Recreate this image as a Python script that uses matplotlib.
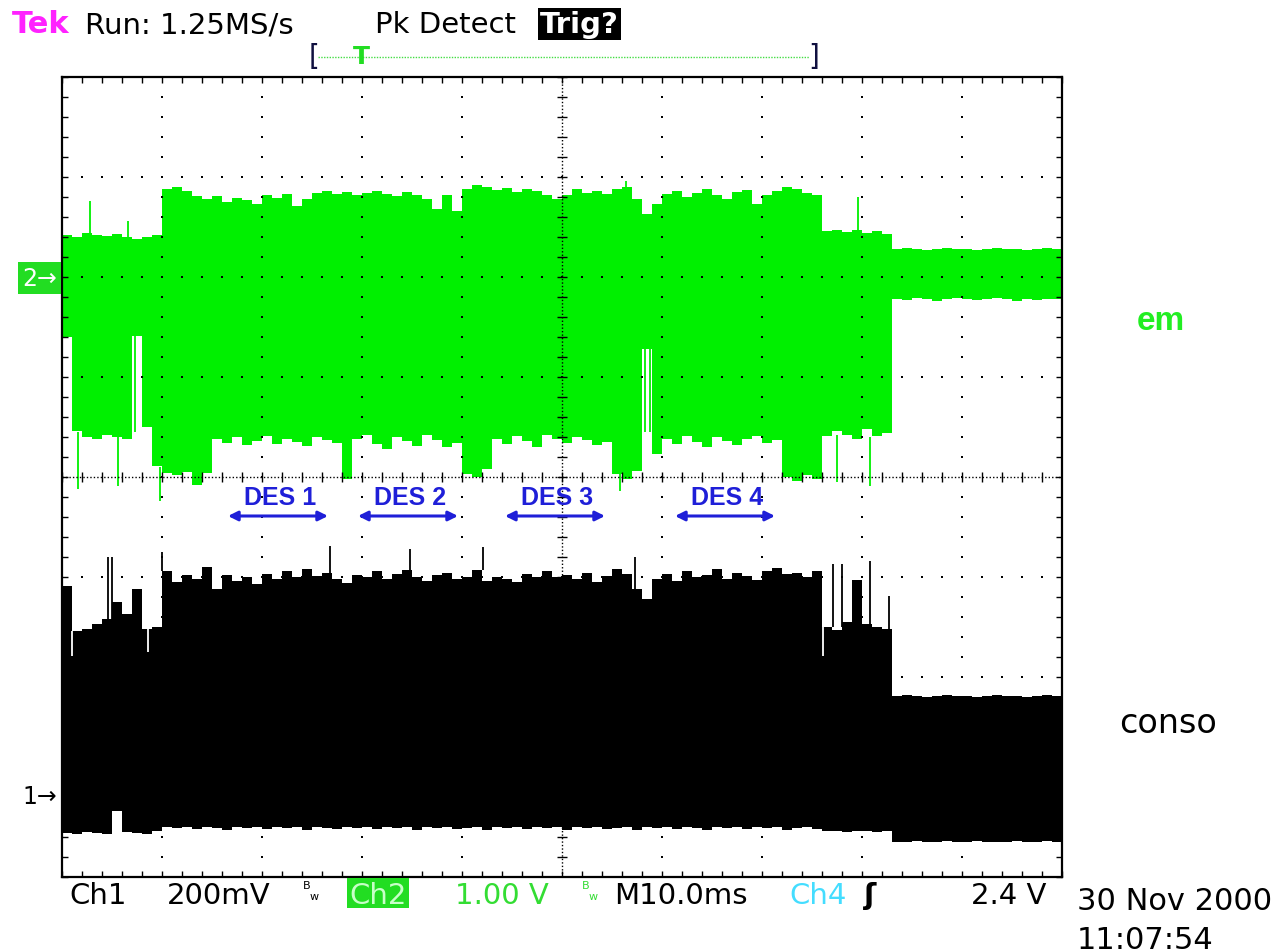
import matplotlib
matplotlib.use("Agg")
import matplotlib.pyplot as plt
from matplotlib.lines import Line2D
from matplotlib.patches import Rectangle
import numpy as np

# screen: 10 div x 8 div, M 10.0 ms/div -> time in ms, vertical in divisions
T_EDGES_MS = np.arange(0, 101, 1)  # 1 ms acquisition bins

# ch2 "em" envelope (divisions, screen units)
GREEN_TOP = [
    2.42, 2.40, 2.44, 2.42, 2.41, 2.43, 2.40, 2.38, 2.40, 2.42,
    2.88, 2.90, 2.86, 2.81, 2.78, 2.81, 2.75, 2.79, 2.77, 2.73,
    2.82, 2.79, 2.83, 2.71, 2.78, 2.84, 2.86, 2.83, 2.85, 2.82,
    2.84, 2.86, 2.83, 2.81, 2.85, 2.82, 2.78, 2.68, 2.82, 2.66,
    2.88, 2.92, 2.90, 2.87, 2.89, 2.85, 2.88, 2.86, 2.82, 2.78,
    2.82, 2.88, 2.84, 2.86, 2.83, 2.88, 2.90, 2.78, 2.63, 2.73,
    2.83, 2.86, 2.80, 2.84, 2.88, 2.82, 2.78, 2.85, 2.87, 2.73,
    2.82, 2.86, 2.90, 2.88, 2.84, 2.82, 2.46, 2.47, 2.45, 2.47,
    2.44, 2.46, 2.43, 2.28, 2.29, 2.28, 2.27, 2.28, 2.29, 2.28,
    2.28, 2.27, 2.28, 2.29, 2.28, 2.28, 2.27, 2.28, 2.29, 2.28,
]
GREEN_BOT = [
    1.40, 0.46, 0.40, 0.38, 0.42, 0.40, 0.38, 1.41, 0.50, 0.11,
    0.04, 0.02, 0.05, -0.08, 0.04, 0.38, 0.34, 0.40, 0.32, 0.36,
    0.41, 0.33, 0.38, 0.35, 0.31, 0.40, 0.37, 0.34, -0.02, 0.38,
    0.42, 0.33, 0.28, 0.40, 0.36, 0.31, 0.42, 0.37, 0.30, 0.34,
    0.03, 0.00, 0.08, 0.38, 0.33, 0.41, 0.36, 0.30, 0.42, 0.38,
    0.34, 0.40, 0.37, 0.32, 0.35, 0.03, -0.02, 0.06, 1.28, 0.23,
    0.38, 0.33, 0.41, 0.35, 0.30, 0.40, 0.36, 0.32, 0.38, 0.41,
    0.34, 0.37, 0.00, -0.04, 0.02, -0.02, 0.41, 0.46, 0.42, 0.38,
    0.48, 0.41, 0.44, 1.78, 1.77, 1.79, 1.78, 1.76, 1.78, 1.79,
    1.78, 1.77, 1.78, 1.79, 1.78, 1.76, 1.78, 1.77, 1.78, 1.78,
]
# isolated glitches on ch2: time, low, high
GREEN_SPIKE_T = [1.6, 5.6, 9.8, 7.3, 55.8, 58.3, 58.8, 77.5, 80.8, 2.8, 6.6, 56.4, 79.6]
GREEN_SPIKE_LO = [-0.12, -0.09, -0.24, 0.45, -0.14, 0.45, 0.45, -0.05, -0.09, 2.40, 2.40, 2.85, 2.45]
GREEN_SPIKE_HI = [0.45, 0.45, 0.10, 1.41, 0.05, 1.28, 1.28, 0.42, 0.40, 2.76, 2.56, 2.96, 2.80]

# ch1 "conso" envelope
BLACK_TOP = [
    -1.09, -1.54, -1.52, -1.47, -1.42, -1.25, -1.37, -1.12, -1.52, -1.50,
    -0.94, -1.05, -0.98, -1.02, -0.90, -1.12, -0.98, -1.04, -1.00, -1.07,
    -0.97, -1.02, -0.94, -1.00, -0.92, -0.99, -0.96, -1.02, -1.06, -0.98,
    -1.00, -0.94, -1.02, -0.97, -0.93, -1.00, -1.04, -0.98, -0.96, -1.02,
    -1.00, -0.93, -1.04, -1.00, -1.02, -1.05, -0.97, -1.00, -0.94, -1.00,
    -0.98, -1.02, -0.96, -1.05, -0.99, -0.92, -0.97, -1.12, -1.22, -1.02,
    -0.97, -1.04, -0.94, -1.00, -0.98, -0.92, -1.02, -0.96, -0.99, -1.03,
    -0.94, -0.91, -0.97, -0.96, -1.00, -0.94, -1.50, -1.53, -1.45, -1.03,
    -1.47, -1.50, -1.52, -2.19, -2.18, -2.19, -2.20, -2.19, -2.18, -2.19,
    -2.19, -2.20, -2.19, -2.18, -2.19, -2.19, -2.20, -2.19, -2.18, -2.19,
]
BLACK_BOT = [
    -3.56, -3.57, -3.55, -3.56, -3.57, -3.34, -3.55, -3.56, -3.57, -3.54,
    -3.50, -3.51, -3.50, -3.52, -3.50, -3.51, -3.53, -3.50, -3.51, -3.50,
    -3.52, -3.50, -3.51, -3.50, -3.53, -3.50, -3.51, -3.52, -3.50, -3.51,
    -3.50, -3.52, -3.50, -3.51, -3.50, -3.53, -3.50, -3.51, -3.50, -3.52,
    -3.51, -3.50, -3.53, -3.50, -3.51, -3.50, -3.52, -3.50, -3.51, -3.50,
    -3.53, -3.50, -3.51, -3.50, -3.52, -3.51, -3.50, -3.53, -3.50, -3.51,
    -3.50, -3.52, -3.50, -3.51, -3.53, -3.50, -3.51, -3.50, -3.52, -3.50,
    -3.51, -3.50, -3.53, -3.51, -3.50, -3.52, -3.54, -3.54, -3.55, -3.54,
    -3.54, -3.55, -3.54, -3.65, -3.65, -3.64, -3.65, -3.65, -3.64, -3.65,
    -3.65, -3.64, -3.65, -3.65, -3.65, -3.64, -3.65, -3.65, -3.64, -3.65,
]
BLACK_SPIKE_T = [4.6, 5.0, 10.0, 26.8, 34.8, 42.1, 57.3, 77.1, 78.0, 80.8, 82.7]
BLACK_SPIKE_LO = [-1.42, -1.42, -0.94, -0.96, -0.93, -0.93, -1.12, -1.50, -1.50, -1.47, -1.52]
BLACK_SPIKE_HI = [-0.80, -0.80, -0.75, -0.69, -0.72, -0.70, -0.80, -0.87, -0.87, -0.84, -1.19]
BLACK_DIP_T = [1.0, 8.6, 76.1]
BLACK_DIP_LO = [-1.79, -1.75, -1.79]
BLACK_DIP_HI = [-1.54, -1.52, -1.50]

# DES markers (ms), at -0.39 div
DES_LABELS = ["DES 1", "DES 2", "DES 3", "DES 4"]
DES_START = [16.6, 29.6, 44.3, 61.3]
DES_END = [26.6, 39.6, 54.3, 71.3]

GREEN = "#00f000"
BLUE = "#1f1fd8"
W, H = 1287, 953


def fx(x):
    return x / W


def fy(y):
    return 1 - y / H


fig = plt.figure(figsize=(W / 100, H / 100), dpi=100, facecolor="white")
ax = fig.add_axes([fx(62), fy(878), 1000 / W, 800 / H])
ax.set_xlim(0, 100)
ax.set_ylim(-4, 4)

# traces
ax.stairs(GREEN_TOP, T_EDGES_MS, baseline=GREEN_BOT, fill=True, color=GREEN, lw=0, zorder=2)
ax.vlines(GREEN_SPIKE_T, GREEN_SPIKE_LO, GREEN_SPIKE_HI, color=GREEN, lw=1.3, zorder=2)
ax.stairs(BLACK_TOP, T_EDGES_MS, baseline=BLACK_BOT, fill=True, color="black", lw=0, zorder=4)
ax.vlines(BLACK_SPIKE_T, BLACK_SPIKE_LO, BLACK_SPIKE_HI, color="black", lw=1.3, zorder=4)
ax.vlines(BLACK_DIP_T, BLACK_DIP_LO, BLACK_DIP_HI, color="white", lw=1.3, zorder=4)

# graticule
for gx in range(10, 100, 10):
    if gx == 50:
        continue
    ax.plot(np.full(41, gx), np.linspace(-4, 4, 41), ls="none", marker="s",
            ms=1.5, color="black", mew=0, zorder=3)
for gy in range(-3, 4):
    if gy == 0:
        continue
    ax.plot(np.arange(0, 101, 2), np.full(51, gy), ls="none", marker="s",
            ms=1.5, color="black", mew=0, zorder=3)
ax.axvline(50, color="black", lw=1, ls=(0, (1, 1.5)), zorder=3)
ax.axhline(0, color="black", lw=1, ls=(0, (1, 1.5)), zorder=3)
ax.plot(np.full(41, 50), np.linspace(-4, 4, 41), ls="none", marker="_",
        ms=7, mew=1, color="black", zorder=3)
ax.plot(np.arange(0, 101, 2), np.zeros(51), ls="none", marker="|",
        ms=7, mew=1, color="black", zorder=3)

ax.set_xticks(np.arange(0, 101, 2))
ax.set_yticks(np.linspace(-4, 4, 41))
ax.tick_params(direction="in", length=4, width=1, top=True, right=True,
               labelbottom=False, labelleft=False, color="black")
ax.set_axisbelow(False)
for s in ax.spines.values():
    s.set_linewidth(1.6)

# DES annotations
for lab, t0, t1 in zip(DES_LABELS, DES_START, DES_END):
    ax.annotate("", xy=(t1, -0.39), xytext=(t0, -0.39),
                arrowprops=dict(arrowstyle="<|-|>", color=BLUE, lw=2.2,
                                mutation_scale=14, shrinkA=0, shrinkB=0), zorder=6)
    ax.text((t0 + t1) / 2 + 0.2, -0.27, lab, color=BLUE, fontsize=18, fontweight="bold",
            family="Liberation Sans", ha="center", va="baseline", zorder=6)

# header
fs = 21
fig.text(fx(12), fy(33), "Tek", color="#ff22ff", fontsize=22, fontweight="bold", va="baseline")
fig.text(fx(85), fy(33), "Run: 1.25MS/s", color="black", fontsize=fs, va="baseline")
fig.text(fx(375), fy(33), "Pk Detect", color="black", fontsize=fs, va="baseline")
fig.text(fx(540), fy(33), "Trig?", color="white", fontsize=fs, fontweight="bold", va="baseline",
         bbox=dict(facecolor="black", edgecolor="none", pad=1.5))
fig.text(fx(309), fy(57), "[", color="#101040", fontsize=20, va="center")
fig.text(fx(808), fy(57), "]", color="#101040", fontsize=20, va="center")
fig.add_artist(Line2D([fx(318), fx(809)], [fy(58), fy(58)], color="#44dd44",
                      lw=1, ls=(0, (1, 1))))
fig.text(fx(353), fy(57), "T", color="#22dd22", fontsize=18, fontweight="bold", va="center")

# channel ground markers
fig.text(fx(22), fy(279), "2\u2192", color="white", fontsize=17, va="center",
         bbox=dict(facecolor="#22dd22", edgecolor="none", pad=3))
fig.text(fx(22), fy(797), "1\u2192", color="black", fontsize=17, va="center")

# right labels
fig.text(fx(1137), fy(330), "em", color="#22ee22", fontsize=24, fontweight="bold",
         family="Liberation Sans", va="baseline")
fig.text(fx(1119), fy(733), "conso", color="black", fontsize=24, va="baseline")

# bottom status line
by = 904
fig.text(fx(69), fy(by), "Ch1", color="black", fontsize=fs, va="baseline")
fig.text(fx(167), fy(by), "200mV", color="black", fontsize=fs, va="baseline")
fig.text(fx(303), fy(889), "B", color="black", fontsize=8, va="baseline")
fig.text(fx(310), fy(900), "w", color="black", fontsize=8, va="baseline")
fig.add_artist(Rectangle((fx(347), fy(909)), 62 / W, 30 / H, transform=fig.transFigure,
                         facecolor="#22dd22", edgecolor="none"))
fig.text(fx(349), fy(by), "Ch2", color="#c8ffc8", fontsize=fs, va="baseline")
fig.text(fx(455), fy(by), "1.00 V", color="#33dd33", fontsize=fs, va="baseline")
fig.text(fx(582), fy(889), "B", color="#33dd33", fontsize=8, va="baseline")
fig.text(fx(589), fy(900), "w", color="#33dd33", fontsize=8, va="baseline")
fig.text(fx(614), fy(by), "M10.0ms", color="black", fontsize=fs, va="baseline")
fig.text(fx(789), fy(by), "Ch4", color="#44ddff", fontsize=fs, va="baseline")
fig.text(fx(864), fy(by), "\u0283", color="black", fontsize=fs, fontweight="bold", va="baseline")
fig.text(fx(971), fy(by), "2.4 V", color="black", fontsize=fs, va="baseline")
fig.text(fx(1077), fy(910), "30 Nov 2000", color="black", fontsize=22, va="baseline")
fig.text(fx(1077), fy(949), "11:07:54", color="black", fontsize=22, va="baseline")

fig.savefig("out.png", dpi=100, facecolor="white")
